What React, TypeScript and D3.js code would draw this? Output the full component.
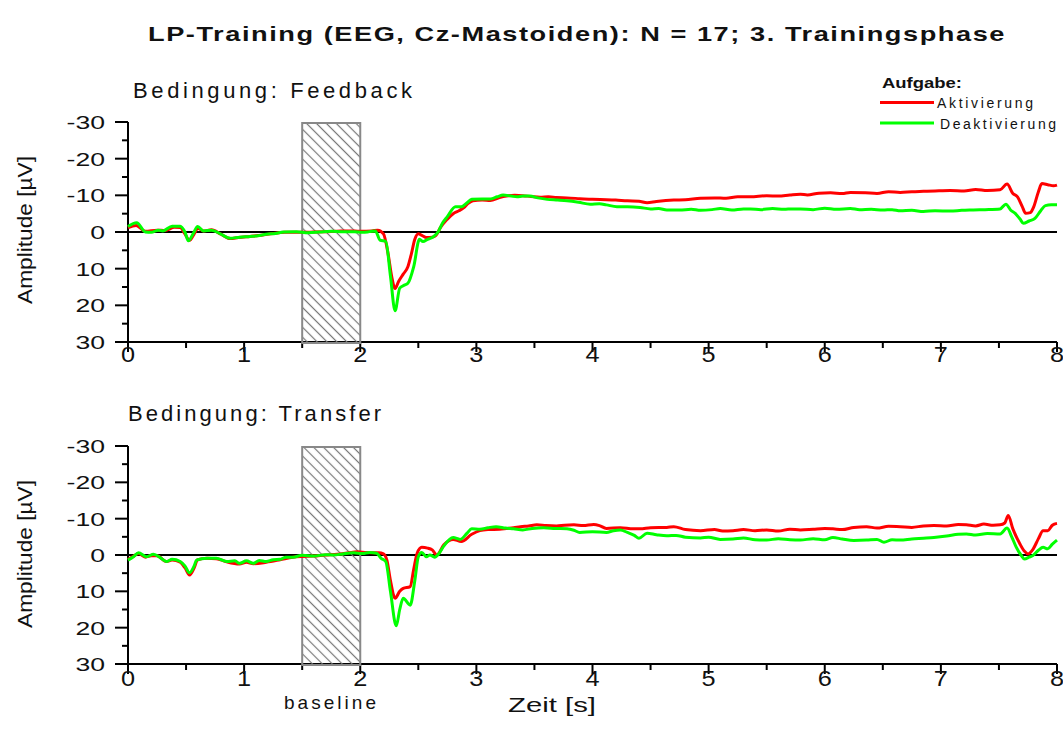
import React from 'react';
import * as d3 from 'd3';

// ---------- data (time in s, amplitude in µV; negative up) ----------
const xTickValues = [0, 1, 2, 3, 4, 5, 6, 7, 8];
const xTickLabels = ['0', '1', '2', '3', '4', '5', '6', '7', '8'];
const yTickValues = [-30, -20, -10, 0, 10, 20, 30];
const yTickLabels = ['-30', '-20', '-10', '0', '10', '20', '30'];
const baselineWindow = [1.5, 2.0];

const feedbackAktivierung: [number, number][] = [
  [0, -1.2], [0.07, -1.8], [0.15, -0.2], [0.25, -0.5], [0.32, -0.4], [0.4, -1.3], [0.45, -1.2],
  [0.49, 0.5], [0.53, 2.3], [0.57, 0.5], [0.6, -1.0], [0.65, -0.3], [0.72, -0.6], [0.8, 0.6],
  [0.88, 1.8], [0.95, 1.5], [1.05, 1.2], [1.15, 0.9], [1.25, 0.4], [1.35, 0.1], [1.5, 0.1],
  [1.6, 0], [1.7, -0.1], [1.8, -0.2], [1.9, -0.3], [2.0, -0.2], [2.1, -0.3], [2.15, -0.5],
  [2.2, 0.5], [2.24, 6], [2.27, 12], [2.3, 15.4], [2.33, 13.5], [2.37, 11.5], [2.41, 9.5],
  [2.44, 6], [2.47, 2], [2.5, 0.5], [2.53, 0.9], [2.57, 1.5], [2.62, 1.4], [2.65, 1.0],
  [2.69, -1.2], [2.75, -3.5], [2.8, -5.0], [2.85, -5.8], [2.89, -6.6], [2.93, -7.8], [2.97, -8.5],
  [3.05, -8.7], [3.12, -8.6], [3.2, -9.4], [3.26, -9.8], [3.33, -10.0], [3.4, -9.9], [3.47, -9.7],
  [3.55, -9.5], [3.62, -9.6], [3.69, -9.4], [3.78, -9.3], [3.89, -9.1], [4.0, -8.9], [4.12, -8.8],
  [4.2, -8.7], [4.3, -8.5], [4.4, -8.4], [4.47, -8.0], [4.55, -8.3], [4.7, -8.7], [4.8, -8.8],
  [4.93, -9.2], [5.05, -9.3], [5.15, -9.2], [5.25, -9.6], [5.36, -9.6], [5.5, -9.9], [5.6, -9.8],
  [5.7, -10.1], [5.79, -10.3], [5.85, -10.1], [5.95, -10.6], [6.05, -10.7], [6.15, -10.5],
  [6.22, -10.8], [6.35, -10.7], [6.45, -10.5], [6.55, -11.0], [6.65, -10.8], [6.75, -11.0],
  [6.85, -11.1], [6.95, -11.2], [7.08, -11.3], [7.2, -11.2], [7.3, -11.6], [7.4, -11.3],
  [7.51, -11.5], [7.57, -13.1], [7.62, -10.5], [7.66, -9.6], [7.7, -7], [7.73, -5.1], [7.77, -5.3],
  [7.8, -6.9], [7.84, -11], [7.87, -13.2], [7.92, -12.9], [7.97, -12.6], [8.0, -12.8],
];

const feedbackDeaktivierung: [number, number][] = [
  [0, -1.5], [0.075, -2.5], [0.15, 0], [0.2, 0.1], [0.26, -0.5], [0.3, -0.3], [0.38, -1.6],
  [0.45, -1.6], [0.49, 0], [0.52, 2.4], [0.56, 0.5], [0.6, -1.5], [0.65, -0.3], [0.72, -0.5],
  [0.8, 0.6], [0.88, 1.7], [0.96, 1.4], [1.05, 1.2], [1.12, 1.0], [1.19, 0.6], [1.27, 0.4],
  [1.34, 0], [1.45, -0.1], [1.55, 0.2], [1.65, 0], [1.75, -0.2], [1.85, -0.1], [1.95, -0.1],
  [2.02, 0.1], [2.08, -0.1], [2.13, -0.3], [2.17, 2.2], [2.22, 2.6], [2.26, 12], [2.3, 21.5],
  [2.34, 15.3], [2.38, 14.5], [2.41, 14], [2.46, 9.5], [2.51, 2], [2.54, 2.6], [2.58, 2.0],
  [2.63, 1.3], [2.67, 0], [2.71, -2.5], [2.75, -4.2], [2.82, -6.9], [2.87, -6.9], [2.92, -8.0],
  [2.96, -8.9], [3.05, -9.0], [3.12, -9.0], [3.18, -9.6], [3.23, -10.1], [3.3, -9.8], [3.35, -9.6],
  [3.4, -9.8], [3.46, -9.8], [3.53, -9.3], [3.61, -8.9], [3.7, -8.7], [3.78, -8.5], [3.88, -8.1],
  [3.98, -7.6], [4.06, -7.7], [4.12, -7.4], [4.21, -6.9], [4.3, -6.9], [4.41, -6.7], [4.5, -6.3],
  [4.57, -6.4], [4.64, -6.0], [4.75, -6.0], [4.85, -6.2], [4.93, -5.9], [5.03, -6.1], [5.1, -6.4],
  [5.2, -6.0], [5.3, -6.3], [5.36, -6.3], [5.45, -6.1], [5.55, -6.4], [5.65, -6.2], [5.72, -6.3],
  [5.79, -6.3], [5.9, -6.1], [6.0, -6.5], [6.1, -6.2], [6.22, -6.4], [6.3, -6.1], [6.4, -6.2],
  [6.5, -6.0], [6.58, -6.1], [6.65, -5.8], [6.75, -5.9], [6.85, -5.6], [6.95, -5.8], [7.08, -5.7],
  [7.18, -5.9], [7.28, -6.0], [7.38, -6.1], [7.51, -6.3], [7.56, -7.6], [7.6, -6.0], [7.64, -5.1],
  [7.68, -3.6], [7.71, -2.4], [7.76, -3.0], [7.81, -3.7], [7.86, -5.8], [7.9, -7.2], [7.95, -7.4],
  [8.0, -7.4],
];

const transferAktivierung: [number, number][] = [
  [0, 1.2], [0.05, 0.3], [0.09, -0.4], [0.15, 0.6], [0.2, 0.2], [0.25, 0.2], [0.33, 1.8],
  [0.38, 1.4], [0.45, 2.0], [0.49, 3.5], [0.53, 5.5], [0.57, 3.5], [0.6, 1.3], [0.68, 0.9],
  [0.76, 1.0], [0.85, 1.9], [0.96, 2.5], [1.02, 2.0], [1.08, 2.4], [1.19, 2.0], [1.31, 1.3],
  [1.42, 0.6], [1.5, 0.4], [1.6, 0.3], [1.7, 0], [1.8, -0.2], [1.9, -0.6], [1.97, -0.9],
  [2.05, -0.7], [2.1, -0.6], [2.16, -0.6], [2.2, -0.3], [2.23, 1.5], [2.26, 7], [2.3, 11.9],
  [2.34, 10], [2.37, 9.2], [2.43, 8.7], [2.46, 4], [2.49, -0.5], [2.53, -2.1], [2.58, -1.9],
  [2.62, -1.4], [2.66, 0], [2.72, -2.8], [2.8, -4.3], [2.87, -3.7], [2.96, -5.7], [3.03, -6.7],
  [3.1, -7.0], [3.2, -7.1], [3.26, -7.3], [3.32, -7.5], [3.38, -7.8], [3.45, -8.0], [3.52, -8.3],
  [3.6, -8.1], [3.69, -8.0], [3.76, -8.2], [3.84, -8.3], [3.92, -8.1], [4.01, -8.4], [4.06, -8.1],
  [4.12, -7.3], [4.24, -7.5], [4.35, -7.2], [4.41, -7.2], [4.5, -7.5], [4.64, -7.6], [4.7, -7.8],
  [4.8, -7.0], [4.93, -6.7], [5.05, -7.0], [5.12, -6.6], [5.21, -6.7], [5.3, -7.0], [5.4, -6.7],
  [5.5, -6.9], [5.6, -6.6], [5.7, -7.1], [5.79, -6.9], [5.9, -7.1], [6.0, -7.3], [6.07, -7.2],
  [6.15, -7.0], [6.25, -7.6], [6.36, -7.8], [6.45, -7.4], [6.55, -7.9], [6.65, -7.8], [6.75, -7.6],
  [6.85, -8.0], [6.94, -8.1], [7.05, -8.0], [7.15, -8.4], [7.22, -8.3], [7.3, -8.0], [7.37, -8.5],
  [7.45, -8.2], [7.51, -8.3], [7.55, -8.8], [7.58, -10.9], [7.62, -7.2], [7.68, -3.1], [7.72, -1.0],
  [7.75, -0.3], [7.79, -1.4], [7.84, -4.5], [7.88, -6.7], [7.92, -6.7], [7.96, -8.2], [8.0, -8.7],
];

const transferDeaktivierung: [number, number][] = [
  [0, 1.4], [0.05, 0.4], [0.09, -0.6], [0.16, 0.5], [0.22, -0.2], [0.28, 0.8], [0.33, 1.8],
  [0.38, 1.2], [0.45, 1.8], [0.49, 3.0], [0.53, 4.9], [0.57, 3.0], [0.59, 1.4], [0.68, 0.9],
  [0.76, 0.9], [0.85, 1.8], [0.92, 1.6], [0.96, 2.3], [1.02, 1.6], [1.08, 2.3], [1.13, 1.5],
  [1.19, 1.8], [1.25, 1.3], [1.31, 1.2], [1.36, 0.6], [1.42, 0.6], [1.5, 0.1], [1.6, 0.3],
  [1.7, -0.1], [1.77, 0], [1.85, -0.3], [1.94, -0.6], [2.02, -0.4], [2.08, -0.7], [2.14, -0.5],
  [2.18, 0.9], [2.22, 1.8], [2.26, 10], [2.31, 19.5], [2.34, 15], [2.37, 11.9], [2.43, 13.8],
  [2.47, 7], [2.5, 0.5], [2.53, -0.7], [2.57, 0.5], [2.6, 0], [2.64, 0.6], [2.68, -0.5],
  [2.72, -2.5], [2.8, -4.8], [2.86, -4.3], [2.92, -6.0], [2.96, -7.2], [3.03, -7.1], [3.1, -7.5],
  [3.17, -7.8], [3.25, -7.4], [3.32, -7.2], [3.4, -6.9], [3.48, -7.3], [3.58, -7.5], [3.68, -7.3],
  [3.78, -7.2], [3.84, -6.8], [3.89, -6.2], [4.0, -6.4], [4.12, -6.2], [4.18, -6.7], [4.24, -6.9],
  [4.3, -6.2], [4.36, -5.4], [4.4, -4.6], [4.47, -6.0], [4.55, -5.6], [4.64, -5.3], [4.72, -5.4],
  [4.8, -4.9], [4.93, -4.7], [5.0, -4.9], [5.1, -4.3], [5.21, -4.4], [5.3, -4.7], [5.4, -4.2],
  [5.5, -4.1], [5.6, -4.5], [5.7, -4.2], [5.79, -4.1], [5.9, -4.5], [6.0, -4.2], [6.07, -4.8],
  [6.15, -4.4], [6.25, -4.0], [6.36, -4.1], [6.45, -4.3], [6.51, -3.5], [6.58, -4.2], [6.65, -4.1],
  [6.75, -4.4], [6.85, -4.6], [6.94, -4.8], [7.05, -5.2], [7.15, -5.7], [7.22, -5.8], [7.3, -5.5],
  [7.4, -5.9], [7.51, -5.8], [7.57, -7.4], [7.61, -5.0], [7.65, -2.1], [7.69, 0], [7.72, 1.1],
  [7.76, 0.6], [7.79, 0.2], [7.84, -1.3], [7.88, -2.1], [7.92, -1.7], [7.96, -3.0], [8.0, -4.1],
];

// ---------- layout ----------
const W = 1063;
const H = 740;
const X0 = 128;
const X1 = 1057;
const FONT = "'Liberation Sans', Arial, Helvetica, sans-serif";
const RED = '#ff0000';
const GREEN = '#00ff00';

type PanelProps = {
  top: number;
  bottom: number;
  akt: [number, number][];
  deakt: [number, number][];
  title: string;
  titleX: number;
  titleY: number;
  titleLen: number;
  labelY: number;
  ampY: number;
};

function Panel({ top, bottom, akt, deakt, title, titleX, titleY, titleLen, labelY, ampY }: PanelProps) {
  const x = d3.scaleLinear().domain([0, 8]).range([X0, X1]);
  const y = d3.scaleLinear().domain([-30, 30]).range([top, bottom]);
  const line = d3
    .line<[number, number]>()
    .x((d) => x(d[0]))
    .y((d) => y(d[1]))
    .curve(d3.curveMonotoneX);
  const minorY = d3.range(-25, 30, 10);
  const minorX = d3.range(0.5, 8, 1);
  return (
    <g>
      <text x={titleX} y={titleY} fontSize={22} textLength={titleLen} lengthAdjust="spacing" fill="#111">
        {title}
      </text>
      <text
        transform={`translate(32,${ampY}) rotate(-90)`}
        textAnchor="middle"
        fontSize={20}
        textLength={148}
        lengthAdjust="spacingAndGlyphs"
        fill="#111"
      >
        Amplitude [µV]
      </text>
      {/* axes */}
      <line x1={X0} x2={X0} y1={top} y2={bottom} stroke="#000" strokeWidth={2} />
      <line x1={X0 - 13} x2={X1} y1={bottom} y2={bottom} stroke="#000" strokeWidth={2} />
      {yTickValues.map((v, i) => (
        <g key={'yt' + v}>
          <line x1={X0 - 13} x2={X0} y1={y(v)} y2={y(v)} stroke="#000" strokeWidth={2} />
          <text
            transform={`translate(105,${y(v) + 7}) scale(1.4,1)`}
            textAnchor="end"
            fontSize={19}
            fill="#111"
          >
            {yTickLabels[i]}
          </text>
        </g>
      ))}
      {minorY.map((v) => (
        <line key={'ym' + v} x1={X0 - 6} x2={X0} y1={y(v)} y2={y(v)} stroke="#000" strokeWidth={2} />
      ))}
      {xTickValues.map((v, i) => (
        <g key={'xt' + v}>
          <line x1={x(v)} x2={x(v)} y1={bottom} y2={bottom + 10} stroke="#000" strokeWidth={2} />
          <text
            transform={`translate(${x(v)},${labelY}) scale(1.15,1)`}
            textAnchor="middle"
            fontSize={22}
            fill="#111"
          >
            {xTickLabels[i]}
          </text>
        </g>
      ))}
      {minorX.map((v) => (
        <line key={'xm' + v} x1={x(v)} x2={x(v)} y1={bottom} y2={bottom + 6} stroke="#000" strokeWidth={2} />
      ))}
      {/* zero line */}
      <line x1={X0} x2={X1} y1={y(0)} y2={y(0)} stroke="#000" strokeWidth={2} />
      {/* baseline window */}
      <rect
        x={x(baselineWindow[0])}
        y={top + 1}
        width={x(baselineWindow[1]) - x(baselineWindow[0])}
        height={bottom - top}
        fill="url(#hatch)"
        stroke="#888"
        strokeWidth={2}
      />
      {/* curves */}
      <path d={line(akt) || ''} fill="none" stroke={RED} strokeWidth={3} strokeLinejoin="round" />
      <path d={line(deakt) || ''} fill="none" stroke={GREEN} strokeWidth={3} strokeLinejoin="round" />
    </g>
  );
}

export default function App() {
  return (
    <svg
      width={W}
      height={H}
      viewBox={`0 0 ${W} ${H}`}
      style={{ position: 'absolute', left: 0, top: 0, background: '#fff' }}
      fontFamily={FONT}
    >
      <defs>
        <pattern id="hatch" patternUnits="userSpaceOnUse" width={7} height={7} patternTransform="rotate(45)">
          <line x1={0} x2={7} y1={3.5} y2={3.5} stroke="#777" strokeWidth={1.2} />
        </pattern>
      </defs>
      <rect x={0} y={0} width={W} height={H} fill="#fff" />
      <text
        x={577}
        y={41}
        textAnchor="middle"
        fontSize={21}
        fontWeight="bold"
        letterSpacing={1.2}
        textLength={858}
        lengthAdjust="spacingAndGlyphs"
        fill="#111"
      >
        LP-Training (EEG, Cz-Mastoiden): N = 17; 3. Trainingsphase
      </text>

      <Panel
        top={122}
        bottom={342}
        akt={feedbackAktivierung}
        deakt={feedbackDeaktivierung}
        title="Bedingung: Feedback"
        titleX={133}
        titleY={98}
        titleLen={279}
        labelY={362}
        ampY={230}
      />
      <Panel
        top={446}
        bottom={664}
        akt={transferAktivierung}
        deakt={transferDeaktivierung}
        title="Bedingung: Transfer"
        titleX={128}
        titleY={421}
        titleLen={253}
        labelY={686}
        ampY={554}
      />

      <text x={330} y={709} textAnchor="middle" fontSize={19} textLength={92} lengthAdjust="spacing" fill="#111">
        baseline
      </text>
      <text x={552} y={712} textAnchor="middle" fontSize={20} textLength={88} lengthAdjust="spacingAndGlyphs" fill="#111">
        Zeit [s]
      </text>

      {/* legend */}
      <text x={882} y={88} fontSize={14} fontWeight="bold" textLength={80} lengthAdjust="spacingAndGlyphs" fill="#111">
        Aufgabe:
      </text>
      <line x1={880} x2={934} y1={102.5} y2={102.5} stroke={RED} strokeWidth={3} />
      <text x={937} y={108} fontSize={14} textLength={96} lengthAdjust="spacing" fill="#111">
        Aktivierung
      </text>
      <line x1={880} x2={934} y1={123} y2={123} stroke={GREEN} strokeWidth={3} />
      <text x={940} y={129} fontSize={14} textLength={116} lengthAdjust="spacing" fill="#111">
        Deaktivierung
      </text>
    </svg>
  );
}
